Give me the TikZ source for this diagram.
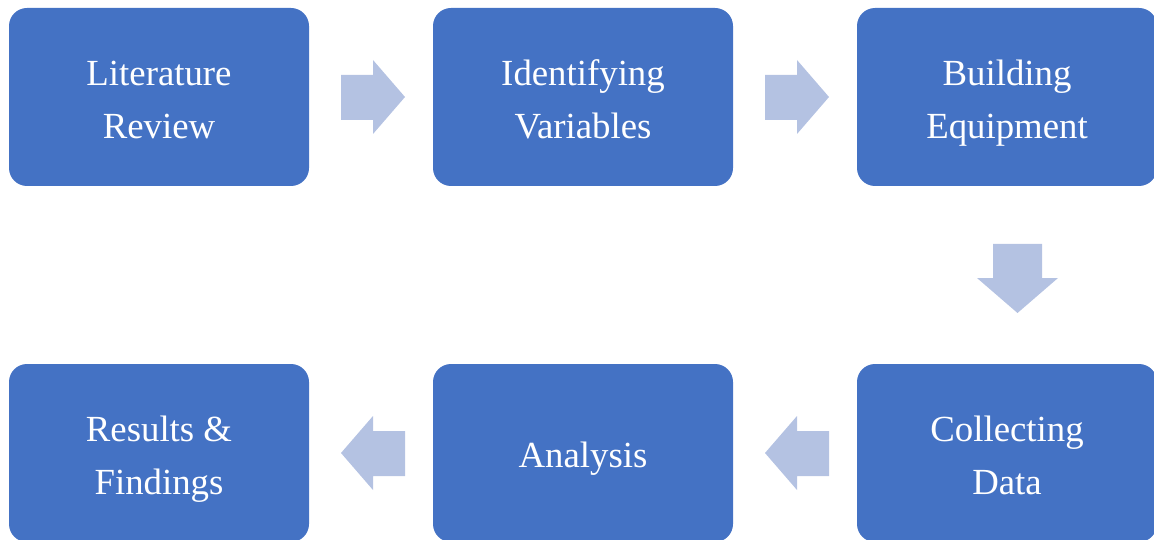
\documentclass[tikz,border=0pt]{standalone}
\usepackage{fontspec}
\setmainfont{Liberation Serif}
\definecolor{boxblue}{HTML}{4472C4}
\definecolor{arrowblue}{RGB}{180,194,226}
% stage label: lines on a fixed 53pt grid, centred on the box
\newcommand\stagetext[1]{\raisebox{-10.5pt}[0pt][0pt]{\begin{tabular}{@{}c@{}}#1\end{tabular}}}
\tikzset{
  stagebox/.style={fill=boxblue, draw=none, rounded corners=18pt,
    minimum width=300pt, minimum height=178pt, inner sep=0pt,
    text=white, font=\fontsize{36.8}{53}\selectfont},
  blockarrow/.style={fill=arrowblue, draw=none}
}
\begin{document}
\begin{tikzpicture}[x=1pt,y=-1pt]
\useasboundingbox (0,0) rectangle (1154,540);
\clip (0,0) rectangle (1154,540);
% process stages
\node[stagebox] (lit) at (159,97) {\stagetext{Literature\\Review}};
\node[stagebox] (var) at (583,97) {\stagetext{Identifying\\Variables}};
\node[stagebox] (equ) at (1007,97) {\stagetext{Building\\Equipment}};
\node[stagebox] (col) at (1007,453) {\stagetext{Collecting\\Data}};
\node[stagebox] (ana) at (583,453) {\stagetext{Analysis}};
\node[stagebox] (res) at (159,453) {\stagetext{Results \&\\Findings}};
% block arrows between stages
\fill[blockarrow] (341,75) -- (373,75) -- (373,60) -- (405,97) -- (373,134) -- (373,120) -- (341,120) -- cycle;
\fill[blockarrow] (765,75) -- (797,75) -- (797,60) -- (829,97) -- (797,134) -- (797,120) -- (765,120) -- cycle;
\fill[blockarrow] (993,244) -- (1042,244) -- (1042,278) -- (1058,278) -- (1017.5,313) -- (977,278) -- (993,278) -- cycle;
\fill[blockarrow] (829,431) -- (797,431) -- (797,416) -- (765,453) -- (797,490) -- (797,476) -- (829,476) -- cycle;
\fill[blockarrow] (405,431) -- (373,431) -- (373,416) -- (341,453) -- (373,490) -- (373,476) -- (405,476) -- cycle;
\end{tikzpicture}
\end{document}
